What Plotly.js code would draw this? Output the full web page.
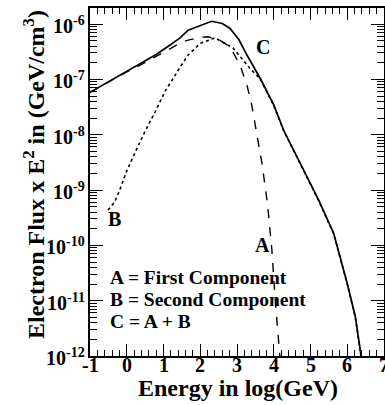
<!DOCTYPE html>
<html>
<head>
<meta charset="utf-8">
<script src="https://cdn.plot.ly/plotly-3.0.1.min.js"></script>
<style>html,body{margin:0;padding:0;background:#fff;}#chart{width:385px;height:405px;}</style>
</head>
<body>
<div id="chart"></div>
<script>
// Energy in log10(GeV) and log10 of electron flux x E^2 (GeV/cm^3)
var xC   = [-1, -0.5, 0, 0.3, 0.8, 1.2, 1.45, 1.67, 2.0, 2.31, 2.6, 2.81, 3.05, 3.27, 3.63, 4.0, 4.27, 4.77, 5.22, 5.63, 6.0, 6.22, 6.36, 6.42];
var logC = [-7.235, -7.045, -6.86, -6.745, -6.55, -6.37, -6.25, -6.11, -6.02, -5.95, -5.99, -6.08, -6.28, -6.56, -6.98, -7.46, -7.92, -8.58, -9.18, -9.78, -10.69, -11.29, -11.95, -12.2];

var xA   = [-1, -0.5, 0, 0.3, 0.8, 1.2, 1.45, 1.67, 2.0, 2.2, 2.5, 2.81, 3.08, 3.27, 3.40, 3.49, 3.68, 3.83, 3.95, 4.04, 4.10, 4.16, 4.19];
var logA = [-7.235, -7.045, -6.865, -6.765, -6.59, -6.44, -6.34, -6.29, -6.24, -6.23, -6.28, -6.41, -6.74, -7.10, -7.46, -7.80, -8.52, -9.25, -10.09, -10.99, -11.5, -11.95, -12.2];

var xB   = [-0.51, -0.42, -0.33, -0.19, -0.01, 0.22, 0.49, 0.77, 1.04, 1.45, 1.67, 2.0, 2.4, 2.89, 3.35, 3.54, 3.63, 4.0, 4.27, 4.77, 5.22, 5.63, 6.0, 6.22, 6.36, 6.42];
var logB = [-9.36, -9.28, -9.22, -9.0, -8.67, -8.33, -7.95, -7.59, -7.22, -6.78, -6.56, -6.35, -6.25, -6.43, -6.80, -6.93, -6.99, -7.47, -7.93, -8.59, -9.19, -9.79, -10.70, -11.30, -11.96, -12.2];

var yTickExp  = [-12, -11, -10, -9, -8, -7, -6];
var yTickText = ['10<sup>-12</sup>', '10<sup>-11</sup>', '10<sup>-10</sup>', '10<sup>-9</sup>', '10<sup>-8</sup>', '10<sup>-7</sup>', '10<sup>-6</sup>'];
var xTickVals = [-1, 0, 1, 2, 3, 4, 5, 6, 7];
var xTickText = ['-1', '0', '1', '2', '3', '4', '5', '6', '7'];
var xTitle = 'Energy in log(GeV)';
var yTitle = 'Electron Flux x E<sup>2</sup> in (GeV/cm<sup>3</sup>)';

function toFlux(arr) { return arr.map(function (v) { return Math.pow(10, v); }); }

// minor tick positions (axis decoration)
var yMinor = [];
for (var d = -13; d <= -6; d++) { for (var m = 2; m <= 9; m++) { yMinor.push(m * Math.pow(10, d)); } }
var yMajor = yTickExp.map(function (e) { return Math.pow(10, e); });

var FONT = 'Liberation Serif, serif';
function f(size) { return {family: FONT, size: size, color: '#000'}; }
function b(t) { return '<b>' + t + '</b>'; }

var traces = [
  {x: xB, y: toFlux(logB), mode: 'lines', line: {color: '#000', width: 1.6, dash: 'dot'}, hoverinfo: 'skip'},
  {x: xA, y: toFlux(logA), mode: 'lines', line: {color: '#000', width: 1.4, dash: 'dash'}, hoverinfo: 'skip'},
  {x: xC, y: toFlux(logC), mode: 'lines', line: {color: '#000', width: 1.7}, hoverinfo: 'skip'}
];

var annotations = [
  {x: 3.71, y: -6.41, xref: 'x', yref: 'y', text: b('C'), showarrow: false, font: f(20)},
  {x: -0.34, y: -9.52, xref: 'x', yref: 'y', text: b('B'), showarrow: false, font: f(20)},
  {x: 3.69, y: -9.99, xref: 'x', yref: 'y', text: b('A'), showarrow: false, font: f(20)},
  {x: -0.52, y: -10.59, xref: 'x', yref: 'y', xanchor: 'left', text: b('A = First Component'), showarrow: false, font: f(19.5)},
  {x: -0.52, y: -10.98, xref: 'x', yref: 'y', xanchor: 'left', text: b('B = Second Component'), showarrow: false, font: f(19.5)},
  {x: -0.52, y: -11.38, xref: 'x', yref: 'y', xanchor: 'left', text: b('C = A + B'), showarrow: false, font: f(19.5)},
  {x: 0.502, y: 0, xref: 'paper', yref: 'paper', xanchor: 'center', yanchor: 'middle', yshift: -32, text: b(xTitle), showarrow: false, font: f(24)},
  {x: 0, y: 0.5, xref: 'paper', yref: 'paper', xanchor: 'center', yanchor: 'middle', xshift: -56, yshift: 7, textangle: -90, text: b(yTitle), showarrow: false, font: f(24)}
];
xTickVals.forEach(function (v, i) {
  annotations.push({x: v, y: 0, xref: 'x', yref: 'paper', xanchor: 'center', yanchor: 'middle', yshift: -9, text: b(xTickText[i]), showarrow: false, font: f(20)});
});
yTickExp.forEach(function (e, i) {
  annotations.push({x: 0, y: e, xref: 'paper', yref: 'y', xanchor: 'right', yanchor: 'middle', xshift: -3, yshift: -1, text: b(yTickText[i]), showarrow: false, font: f(20)});
});

var layout = {
  width: 385, height: 405,
  margin: {l: 90, r: 1, t: 8, b: 49},
  showlegend: false,
  xaxis: {
    range: [-1, 7], tickmode: 'array', tickvals: xTickVals, showticklabels: false,
    ticks: 'inside', ticklen: 12, tickwidth: 1, tickcolor: '#000',
    minor: {dtick: 0.2, ticks: 'inside', ticklen: 6, tickcolor: '#000', showgrid: false},
    showline: true, linewidth: 2, linecolor: '#000', mirror: 'ticks',
    showgrid: false, zeroline: false
  },
  yaxis: {
    type: 'log', range: [-12, -5.71], tickmode: 'array', tickvals: yMajor, showticklabels: false,
    ticks: 'inside', ticklen: 13, tickwidth: 1, tickcolor: '#000',
    minor: {tickmode: 'array', tickvals: yMinor, ticks: 'inside', ticklen: 7, tickcolor: '#000', showgrid: false},
    showline: true, linewidth: 2, linecolor: '#000', mirror: 'ticks',
    showgrid: false, zeroline: false
  },
  annotations: annotations
};

Plotly.newPlot('chart', traces, layout, {displayModeBar: false});
</script>
</body>
</html>
